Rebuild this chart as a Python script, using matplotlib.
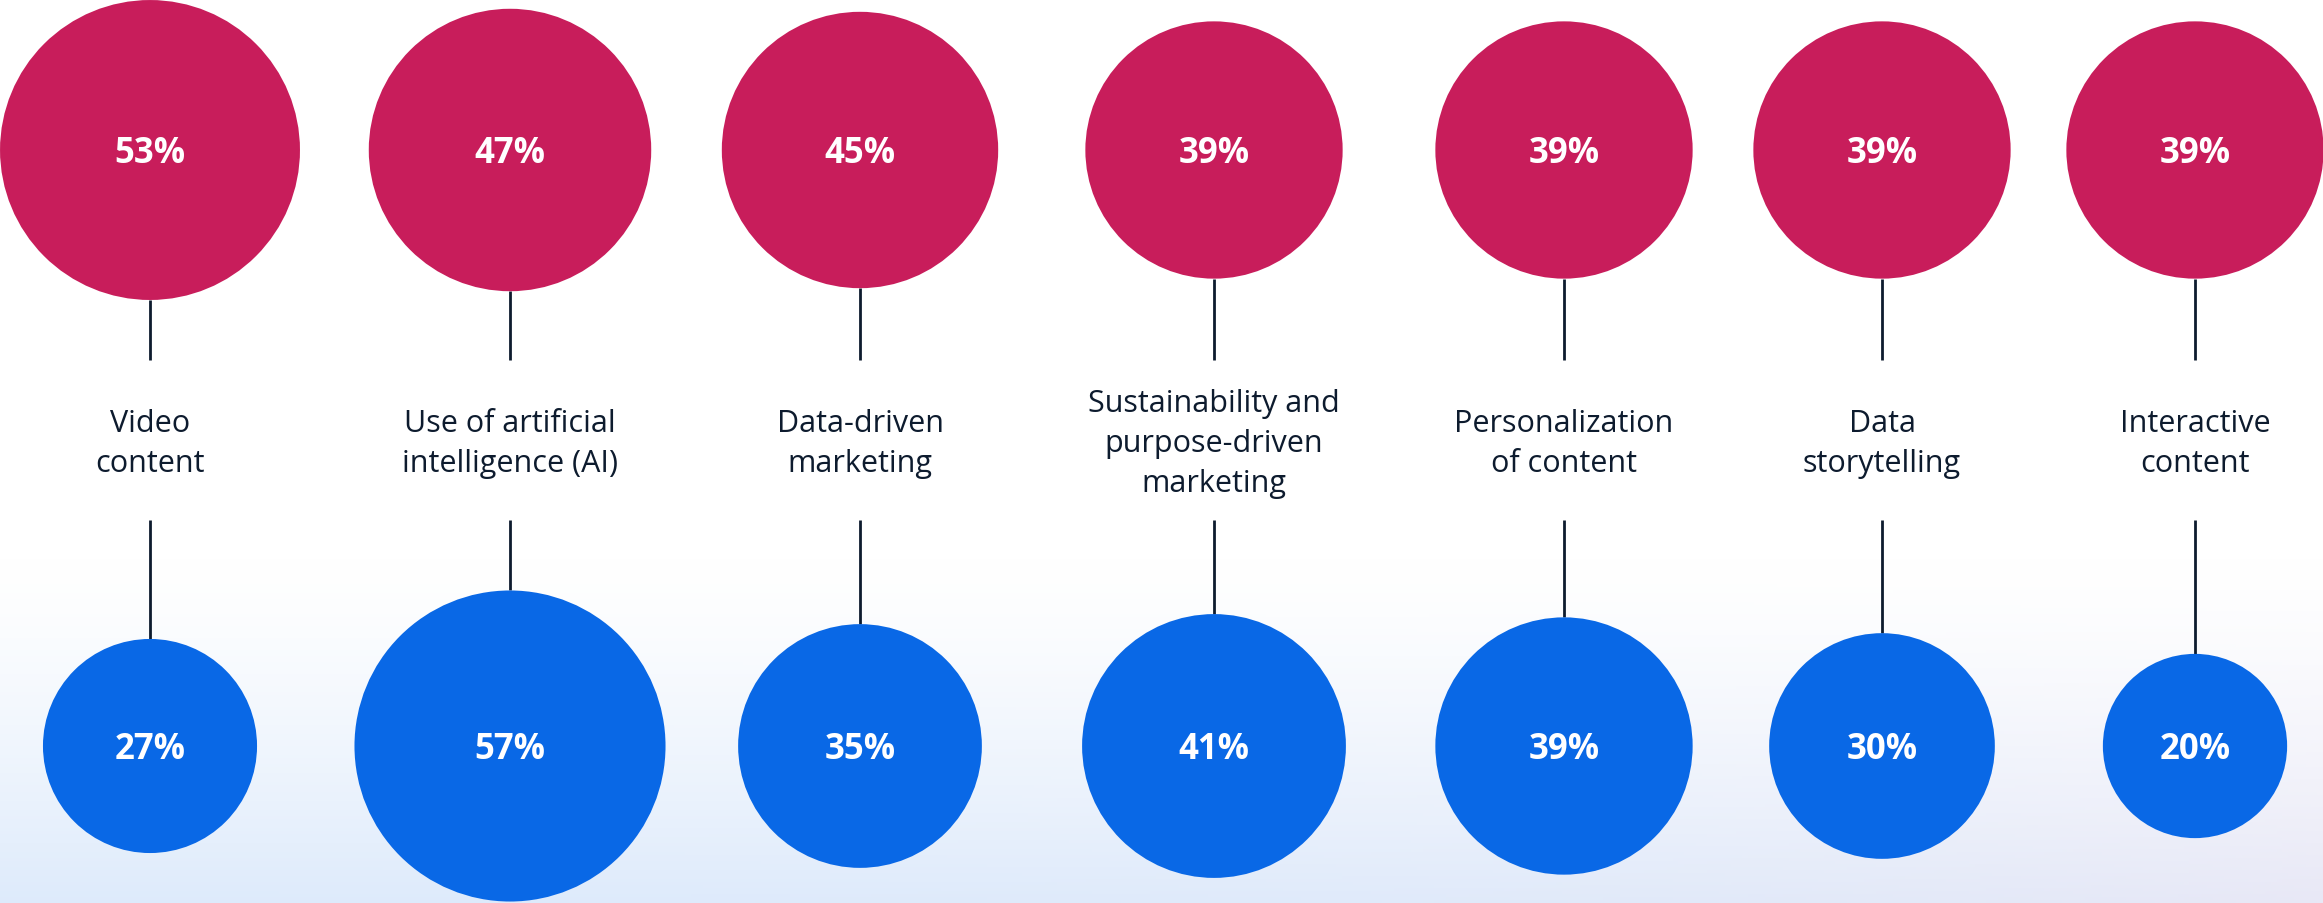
import numpy as np
import matplotlib.pyplot as plt
from matplotlib.patches import Circle

plt.rcParams['font.family'] = ['Open Sans', 'DejaVu Sans']

labels = [
    'Video\ncontent',
    'Use of artificial\nintelligence (AI)',
    'Data-driven\nmarketing',
    'Sustainability and\npurpose-driven\nmarketing',
    'Personalization\nof content',
    'Data\nstorytelling',
    'Interactive\ncontent',
]
top_values = [53, 47, 45, 39, 39, 39, 39]
bottom_values = [27, 57, 35, 41, 39, 30, 20]

# layout (pixels)
W, H = 2323, 904
xs = [150, 510, 860, 1214, 1564, 1882, 2195]
top_y = 151
bot_y = 747
label_y = 444
k = 20.6  # radius per sqrt(percent)

pink = '#C81D5B'
blue = '#0968E6'
navy = '#0D1B2E'

fig = plt.figure(figsize=(W / 100, H / 100), dpi=100)
ax = fig.add_axes([0, 0, 1, 1])
ax.set_xlim(0, W)
ax.set_ylim(H, 0)
ax.axis('off')

# soft background gradient at the bottom
yy = np.linspace(0, 1, 300)[:, None]
xx = np.linspace(0, 1, 400)[None, :]
t = np.clip((yy - 0.62) / 0.38, 0, 1) ** 1.3
base = np.array([1.0, 1.0, 1.0])
light = np.array([0.87, 0.92, 0.985])
lav = np.array([0.91, 0.91, 0.965])
mix = (xx ** 3)[..., None]
bottom_col = light * (1 - mix) + lav * mix
bg = base * (1 - t[..., None]) + bottom_col * t[..., None]
ax.imshow(bg, extent=(0, W, H, 0), aspect='auto', zorder=0)

for x, lab, tv, bv in zip(xs, labels, top_values, bottom_values):
    rt = k * np.sqrt(tv)
    rb = k * np.sqrt(bv)
    ax.plot([x, x], [top_y + rt, 361], color=navy, lw=2, zorder=1,
            solid_capstyle='butt')
    ax.plot([x, x], [521, bot_y - rb], color=navy, lw=2, zorder=1,
            solid_capstyle='butt')
    ax.add_patch(Circle((x, top_y), rt, color=pink, lw=0, zorder=2))
    ax.add_patch(Circle((x, bot_y), rb, color=blue, lw=0, zorder=2))
    ax.text(x, top_y + 3, f'{tv}%', color='white', fontsize=25, fontweight='bold',
            ha='center', va='center', zorder=3)
    ax.text(x, bot_y + 3, f'{bv}%', color='white', fontsize=25, fontweight='bold',
            ha='center', va='center', zorder=3)
    ax.text(x, label_y, lab, color=navy, fontsize=22, ha='center',
            va='center', linespacing=1.42, zorder=3)

fig.savefig('out.png', dpi=100)
